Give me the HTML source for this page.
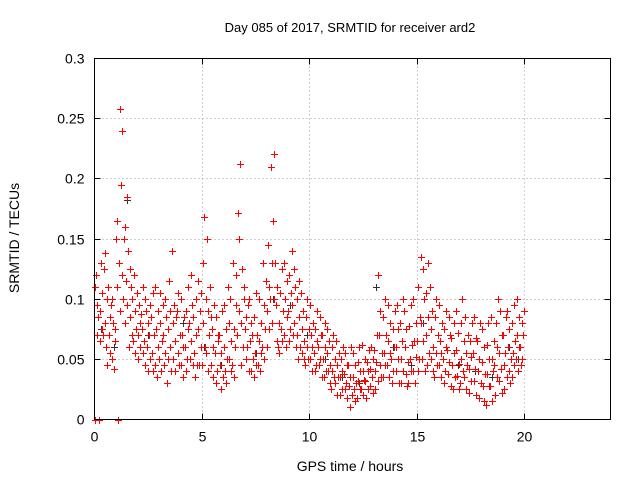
<!DOCTYPE html>
<html><head><meta charset="utf-8"><style>
html,body{margin:0;padding:0;background:#fff;}
svg{display:block;font-family:"Liberation Sans",sans-serif;}
</style></head><body>
<svg id="chart" width="640" height="480" viewBox="0 0 640 480" xmlns="http://www.w3.org/2000/svg">
<text x="350" y="32" font-size="13" text-anchor="middle">Day 085 of 2017, SRMTID for receiver ard2</text>
<text transform="translate(19,238) rotate(-90)" font-size="14" text-anchor="middle">SRMTID / TECUs</text>
<text x="350" y="471" font-size="14" text-anchor="middle">GPS time / hours</text>
<g id="grid"></g>
<g id="ticks"></g>
<g id="gray" fill="#333333" shape-rendering="crispEdges"></g>
<g id="red" fill="#ff0000" shape-rendering="crispEdges"></g>
<rect x="94.5" y="58.5" width="516" height="361" fill="none" stroke="#000" stroke-width="1"/>
</svg>
<script>
// values in thousandths of TECU
const redTimes = [0.0,0.2,0.4,0.6,0.8,1.0,1.2,1.4,1.6,1.8,2.0,2.2,2.4,2.6,2.8,3.0,3.2,3.4,3.6,3.8,4.0,4.2,4.4,4.6,4.8,5.0,5.2,5.4,5.6,5.8,6.0,6.2,6.4,6.6,6.8,7.0,7.2,7.4,7.6,7.8,8.0,8.2,8.4,8.6,8.8,9.0,9.2,9.4,9.6,9.8,10.0,10.2,10.4,10.6,10.8,11.0,11.2,11.4,11.6,11.8,12.0,12.2,12.4,12.6,12.8,13.0,13.2,13.4,13.6,13.8,14.0,14.2,14.4,14.6,14.8,15.0,15.2,15.4,15.6,15.8,16.0,16.2,16.4,16.6,16.8,17.0,17.2,17.4,17.6,17.8,18.0,18.2,18.4,18.6,18.8,19.0,19.2,19.4,19.6,19.8];
const redValues = [
[110,95,0,85,120,70],[130,90,75,65,105,0],[125,100,80,60,70,138],[95,70,55,45,85,110],[80,65,50,42,100,75],
[130,150,0,110,90,165],[258,240,195,150,120,100],[185,160,140,115,95,80],[125,100,85,70,60,110],[105,90,75,65,55,120],
[95,80,70,60,50,88],[100,75,65,55,45,110],[90,80,60,50,40,70],[105,85,70,55,40,95],[110,90,75,60,45,35],
[95,80,65,50,40,105],[100,85,70,55,45,30],[90,75,60,50,40,115],[140,95,80,65,50,40],[105,90,70,55,45,85],
[100,85,70,60,45,35],[110,90,75,60,50,40],[120,95,80,65,50,45],[100,85,70,55,45,35],[115,90,75,60,45,105],
[168,130,100,80,60,45],[150,110,90,70,55,40],[95,75,60,45,35,85],[85,70,55,40,30,65],[90,70,55,45,35,25],
[95,75,60,50,40,30],[100,80,65,50,40,110],[130,95,75,60,45,35],[212,172,150,120,90,70],[125,100,80,60,45,110],
[95,75,60,50,40,85],[100,80,65,50,40,70],[105,85,70,55,45,35],[100,80,65,55,45,40],[115,95,75,60,50,130],
[145,110,90,75,60,100],[221,210,165,130,100,80],[130,110,95,80,65,60],[125,105,90,75,65,55],[130,115,100,85,70,60],
[140,120,105,90,75,65],[125,110,95,80,70,60],[115,100,85,70,60,50],[105,90,75,65,55,50],[100,85,75,60,50,45],
[95,80,70,60,50,40],[90,75,65,55,45,40],[85,70,60,50,45,35],[80,70,60,50,40,35],[75,65,55,45,40,30],
[70,60,50,40,35,25],[65,55,45,35,30,20],[60,50,40,35,25,20],[55,45,38,30,25,18],[60,45,35,28,20,10],
[55,45,35,30,25,15],[60,48,40,32,25,18],[62,50,40,33,25,20],[58,48,40,32,25,18],[60,50,42,35,28,22],
[70,58,48,40,32,25],[120,90,70,55,45,35],[100,85,70,55,45,35],[95,80,65,55,45,35],[90,75,60,50,40,30],
[95,75,60,50,40,30],[100,80,65,50,40,30],[90,75,60,48,38,28],[95,78,62,50,40,30],[100,80,65,52,40,30],
[135,110,85,65,50,40],[125,100,80,65,50,40],[130,105,85,70,55,45],[110,90,75,60,50,40],[100,85,70,55,45,35],
[95,80,65,55,45,35],[90,75,60,50,40,30],[85,70,58,48,38,28],[80,68,55,45,35,25],[90,72,58,46,36,25],
[100,80,65,50,40,30],[85,70,55,45,35,25],[80,65,52,42,32,22],[85,68,55,42,32,20],[80,65,50,40,30,18],
[75,60,48,38,28,15],[80,62,50,38,28,12],[85,65,50,40,28,15],[100,80,60,45,35,20],[90,70,55,42,32,22],
[85,70,55,45,35,25],[90,75,60,50,40,30],[95,80,65,55,45,35],[100,85,70,60,50,40],[90,80,70,60,50,45]];
const grayTimes = [0.3,0.9,1.5,2.5,3.3,4.1,5.1,5.9,6.7,7.5,8.3,9.1,9.9,10.7,11.5,12.3,13.1,13.9,14.7,15.3,16.1,16.9,17.7,18.5,19.3,19.7];
const grayValues = [75,60,182,70,55,80,60,45,150,55,100,95,70,50,35,30,110,60,45,80,55,45,40,35,60,50];
const xTicks = [0,5,10,15,20];
const xTickLabels = ["0","5","10","15","20"];
const yTicks = [0,0.05,0.1,0.15,0.2,0.25,0.3];
const yTickLabels = ["0","0.05","0.1","0.15","0.2","0.25","0.3"];
const X0=94.5,X1=610.5,Y0=419.5,Y1=58.5,XMAX=24,YMAX=0.3;
function sx(t){return X0+(X1-X0)*t/XMAX;}
function sy(v){return Y0-(Y0-Y1)*v/YMAX;}
const NS="http://www.w3.org/2000/svg";
const grid=document.getElementById('grid'),ticks=document.getElementById('ticks');
function line(g,x1,y1,x2,y2,st,dash){const l=document.createElementNS(NS,'line');l.setAttribute('x1',x1);l.setAttribute('y1',y1);l.setAttribute('x2',x2);l.setAttribute('y2',y2);l.setAttribute('stroke',st);if(dash)l.setAttribute('stroke-dasharray',dash);g.appendChild(l);return l;}
function txt(x,y,s,anchor){const t=document.createElementNS(NS,'text');t.setAttribute('x',x);t.setAttribute('y',y);t.setAttribute('font-size','14');t.setAttribute('text-anchor',anchor);t.textContent=s;ticks.appendChild(t);return t;}
xTicks.forEach((t,i)=>{const x=Math.round(sx(t)-0.5)+0.5;
 if(t>0){const g=line(grid,x,Y0,x,Y1,'#a0a0a0','1,3');}
 const a=line(ticks,x,Y0,x,Y0-6,'#000');
 const b=line(ticks,x,Y1,x,Y1+6,'#000');
 const l=txt(x,Y0+22,xTickLabels[i],'middle');});
yTicks.forEach((v,i)=>{const y=Math.round(sy(v)-0.5)+0.5;
 if(v>0&&v<YMAX){const g=line(grid,X0,y,X1,y,'#a0a0a0','1,3');}
 const a=line(ticks,X0,y,X0+6,y,'#000');
 const b=line(ticks,X1,y,X1-6,y,'#000');
 const l=txt(X0-10,y+5,yTickLabels[i],'end');});
function plus(g,t,v){const x=Math.round(sx(t)),y=Math.round(sy(v/1000));
 const p=document.createElementNS(NS,'path');
 p.setAttribute('d',`M${x-3} ${y}h7v1h-7zM${x} ${y-3}h1v7h-1z`);
 g.appendChild(p);return p;}
const gg=document.getElementById('gray'),rg=document.getElementById('red');
const spread=[0,3,1,5,2,4];
grayTimes.forEach((t,i)=>{const p=plus(gg,t,grayValues[i]);

});
redTimes.forEach((t,i)=>{redValues[i].forEach((v,j)=>{const p=plus(rg,t+spread[(j+i)%6]*0.033,v);

});});
</script>
</body></html>
